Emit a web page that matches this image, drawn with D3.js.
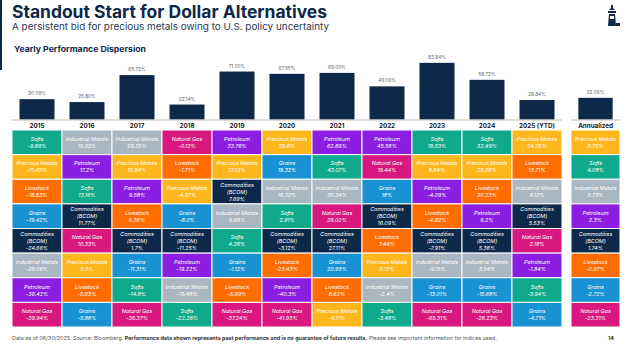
<!DOCTYPE html>
<html><head><meta charset="utf-8">
<script src="https://cdn.jsdelivr.net/npm/d3@7"></script>
<style>html,body{margin:0;padding:0;background:#fff;}svg{display:block;font-family:Inter,"Noto Sans",sans-serif;}</style>
</head><body>
<script>
const years = ["2015","2016","2017","2018","2019","2020","2021","2022","2023","2024","2025 (YTD)"];
const annualLabel = "Annualized";
const dispersion = [30.09,25.80,65.72,22.14,71.00,67.55,69.00,49.06,83.84,58.72,28.84];
const annualDispersion = 32.06;

const names2015 = ["Softs","Precious Metals","Livestock","Grains","Commodities (BCOM)","Industrial Metals","Petroleum","Natural Gas"];
const vals2015 = [-9.86,-11.45,-18.83,-19.42,-24.66,-26.06,-39.42,-39.94];
const names2016 = ["Industrial Metals","Petroleum","Softs","Commodities (BCOM)","Natural Gas","Precious Metals","Livestock","Grains"];
const vals2016 = [19.92,17.2,13.16,11.77,10.33,9.5,-5.63,-5.88];
const names2017 = ["Industrial Metals","Precious Metals","Petroleum","Livestock","Commodities (BCOM)","Grains","Softs","Natural Gas"];
const vals2017 = [29.35,10.94,9.58,6.36,1.7,-11.31,-14.8,-36.37];
const names2018 = ["Natural Gas","Livestock","Precious Metals","Grains","Commodities (BCOM)","Petroleum","Industrial Metals","Softs"];
const vals2018 = [-0.12,-1.71,-4.57,-8.0,-11.25,-19.22,-19.48,-22.26];
const names2019 = ["Petroleum","Precious Metals","Commodities (BCOM)","Industrial Metals","Softs","Grains","Livestock","Natural Gas"];
const vals2019 = [33.76,17.02,7.69,6.98,4.26,-1.12,-5.99,-37.24];
const names2020 = ["Precious Metals","Grains","Industrial Metals","Softs","Commodities (BCOM)","Livestock","Petroleum","Natural Gas"];
const vals2020 = [25.6,19.32,16.32,2.91,-3.12,-23.43,-40.3,-41.95];
const names2021 = ["Petroleum","Softs","Industrial Metals","Natural Gas","Commodities (BCOM)","Grains","Livestock","Precious Metals"];
const vals2021 = [62.89,43.07,30.34,28.02,27.11,20.95,8.62,-6.11];
const names2022 = ["Petroleum","Natural Gas","Grains","Commodities (BCOM)","Livestock","Precious Metals","Industrial Metals","Softs"];
const vals2022 = [45.58,19.44,18,16.09,7.44,0.12,-2.4,-3.48];
const names2023 = ["Softs","Precious Metals","Petroleum","Livestock","Commodities (BCOM)","Industrial Metals","Grains","Natural Gas"];
const vals2023 = [18.53,8.84,-4.09,-4.92,-7.91,-9.15,-13.01,-65.31];
const names2024 = ["Softs","Precious Metals","Livestock","Petroleum","Commodities (BCOM)","Industrial Metals","Grains","Natural Gas"];
const vals2024 = [32.49,25.26,20.23,9.20,5.38,3.54,-15.68,-26.23];
const names2025 = ["Precious Metals","Livestock","Industrial Metals","Commodities (BCOM)","Natural Gas","Petroleum","Softs","Grains"];
const vals2025 = [24.05,13.71,8.12,5.53,2.18,-1.84,-3.94,-4.71];
const namesAnn = ["Precious Metals","Softs","Industrial Metals","Petroleum","Commodities (BCOM)","Livestock","Grains","Natural Gas"];
const valsAnn = [8.75,4.08,3.73,2.30,1.74,-0.97,-2.72,-23.31];

const sectors = ["Softs","Industrial Metals","Natural Gas","Precious Metals","Petroleum","Livestock","Grains","Commodities (BCOM)"];
const sectorColors = ["#0fa98c","#a8b7c2","#d8187e","#fdb71c","#8b1ee0","#ff6c00","#1992d4","#0d2848"];

const W = 624, H = 344;
const navy = "#0d2848";
const color = d3.scaleOrdinal().domain(sectors).range(sectorColors);

const colNames = [names2015,names2016,names2017,names2018,names2019,names2020,names2021,names2022,names2023,names2024,names2025];
const colVals = [vals2015,vals2016,vals2017,vals2018,vals2019,vals2020,vals2021,vals2022,vals2023,vals2024,vals2025];

const svg = d3.select("body").append("svg").attr("width",W).attr("height",H);

// header
svg.append("rect").attr("x",0).attr("y",0).attr("width",2).attr("height",70).attr("fill",navy);
svg.append("text").attr("x",12).attr("y",18).attr("font-size",17).attr("font-weight",700)
  .attr("fill",navy).attr("textLength",315).attr("lengthAdjust","spacingAndGlyphs")
  .text("Standout Start for Dollar Alternatives");
svg.append("text").attr("x",12).attr("y",29.5).attr("font-size",9.2)
  .attr("fill","#2b3a4f").attr("textLength",317).attr("lengthAdjust","spacingAndGlyphs")
  .text("A persistent bid for precious metals owing to U.S. policy uncertainty");
svg.append("text").attr("x",14).attr("y",51.5).attr("font-size",7.5).attr("font-weight",700)
  .attr("fill",navy).attr("textLength",132).attr("lengthAdjust","spacingAndGlyphs")
  .text("Yearly Performance Dispersion");

// logo (decorative)
const logo = svg.append("g").attr("transform","translate(607,5)").attr("fill",navy);
logo.append("path").attr("d","M4 0 L6 0 L6 3 L8 5 L2 5 L4 3 Z");
logo.append("rect").attr("x",1).attr("y",6).attr("width",8).attr("height",2);
logo.append("path").attr("d","M2 9 L8 9 L9 21 L1 21 Z");
logo.append("rect").attr("x",3).attr("y",11).attr("width",4).attr("height",3).attr("fill","#fff");
logo.append("rect").attr("x",9).attr("y",18).attr("width",4).attr("height",3);

// scales
const xCell = d3.scaleBand().domain(years).range([12,562]);
const xBar = d3.scaleBand().domain(years).range([12,562]).paddingInner(0.3).paddingOuter(0.15);
const xCellA = d3.scaleBand().domain([annualLabel]).range([571,620]);
const xBarA = d3.scaleBand().domain([annualLabel]).range([571,620]).paddingInner(0.3).paddingOuter(0.15);
const yBar = d3.scaleLinear().domain([0,90]).range([119.5,58.7]);
const yRow = d3.scaleBand().domain(d3.range(8)).range([130,327]);

// bars
const barData = years.map((y,i)=>({key:y,v:dispersion[i],x:xBar(y),w:xBar.bandwidth()}))
  .concat([{key:annualLabel,v:annualDispersion,x:xBarA(annualLabel),w:xBarA.bandwidth()}]);
svg.append("g").selectAll("rect").data(barData).join("rect")
  .attr("x",d=>d.x).attr("width",d=>d.w).attr("y",d=>yBar(d.v)).attr("height",d=>yBar(0)-yBar(d.v))
  .attr("fill",navy);
svg.append("g").selectAll("text").data(barData).join("text")
  .attr("x",d=>d.x+d.w/2).attr("y",d=>yBar(d.v)-4).attr("text-anchor","middle")
  .attr("font-size",4.8).attr("fill","#666").text(d=>d.v.toFixed(2)+"%");

// axis lines
svg.append("line").attr("x1",12).attr("x2",562).attr("y1",120).attr("y2",120).attr("stroke","#bbb").attr("stroke-width",1);
svg.append("line").attr("x1",571).attr("x2",620).attr("y1",120).attr("y2",120).attr("stroke","#bbb").attr("stroke-width",1);

// year labels
const hdr = years.map(y=>({t:y,x:xCell(y)+xCell.bandwidth()/2})).concat([{t:annualLabel,x:xCellA(annualLabel)+xCellA.bandwidth()/2}]);
svg.append("g").selectAll("text").data(hdr).join("text")
  .attr("x",d=>d.x).attr("y",127.5).attr("text-anchor","middle").attr("font-size",6.3).attr("font-weight",700)
  .attr("fill","#1a1a1a").text(d=>d.t);

// cells
const cells = [];
colNames.forEach((ns,ci)=>ns.forEach((n,ri)=>cells.push({name:n,v:colVals[ci][ri],x:xCell(years[ci]),w:xCell.bandwidth(),r:ri})));
namesAnn.forEach((n,ri)=>cells.push({name:n,v:valsAnn[ri],x:xCellA(annualLabel),w:xCellA.bandwidth(),r:ri}));

const fmt = v => (Number.isInteger(v) && v !== 18 ? v.toFixed(1) : String(+v.toFixed(2))) + "%";

const cg = svg.append("g").selectAll("g").data(cells).join("g");
cg.append("rect").attr("x",d=>d.x).attr("y",d=>yRow(d.r)).attr("width",d=>d.w).attr("height",yRow.bandwidth())
  .attr("fill",d=>color(d.name)).attr("stroke","#fff").attr("stroke-width",1);
cg.each(function(d){
  const g = d3.select(this);
  const cx = d.x + d.w/2, cy = yRow(d.r) + yRow.bandwidth()/2;
  const lines = d.name==="Commodities (BCOM)" ? ["Commodities","(BCOM)",fmt(d.v)] : [d.name,fmt(d.v)];
  const lh = 7;
  const start = cy - (lines.length-1)*lh/2 + 2;
  lines.forEach((t,i)=>{
    g.append("text").attr("x",cx).attr("y",start+i*lh).attr("text-anchor","middle")
      .attr("font-size",5.4).attr("font-style","italic").attr("fill","#fff").text(t);
  });
});

// footer
const ft = svg.append("text").attr("x",12).attr("y",340).attr("font-size",5.4).attr("fill","#555");
ft.append("tspan").text("Data as of 06/30/2025. Source: Bloomberg. ");
ft.append("tspan").attr("font-weight",700).attr("fill","#333").text("Performance data shown represents past performance and is no guarantee of future results.");
ft.append("tspan").text(" Please see important information for indices used.");
svg.append("text").attr("x",614).attr("y",340).attr("text-anchor","end").attr("font-size",5.4).attr("font-weight",700).attr("fill","#333").text("14");
</script>
</body></html>
